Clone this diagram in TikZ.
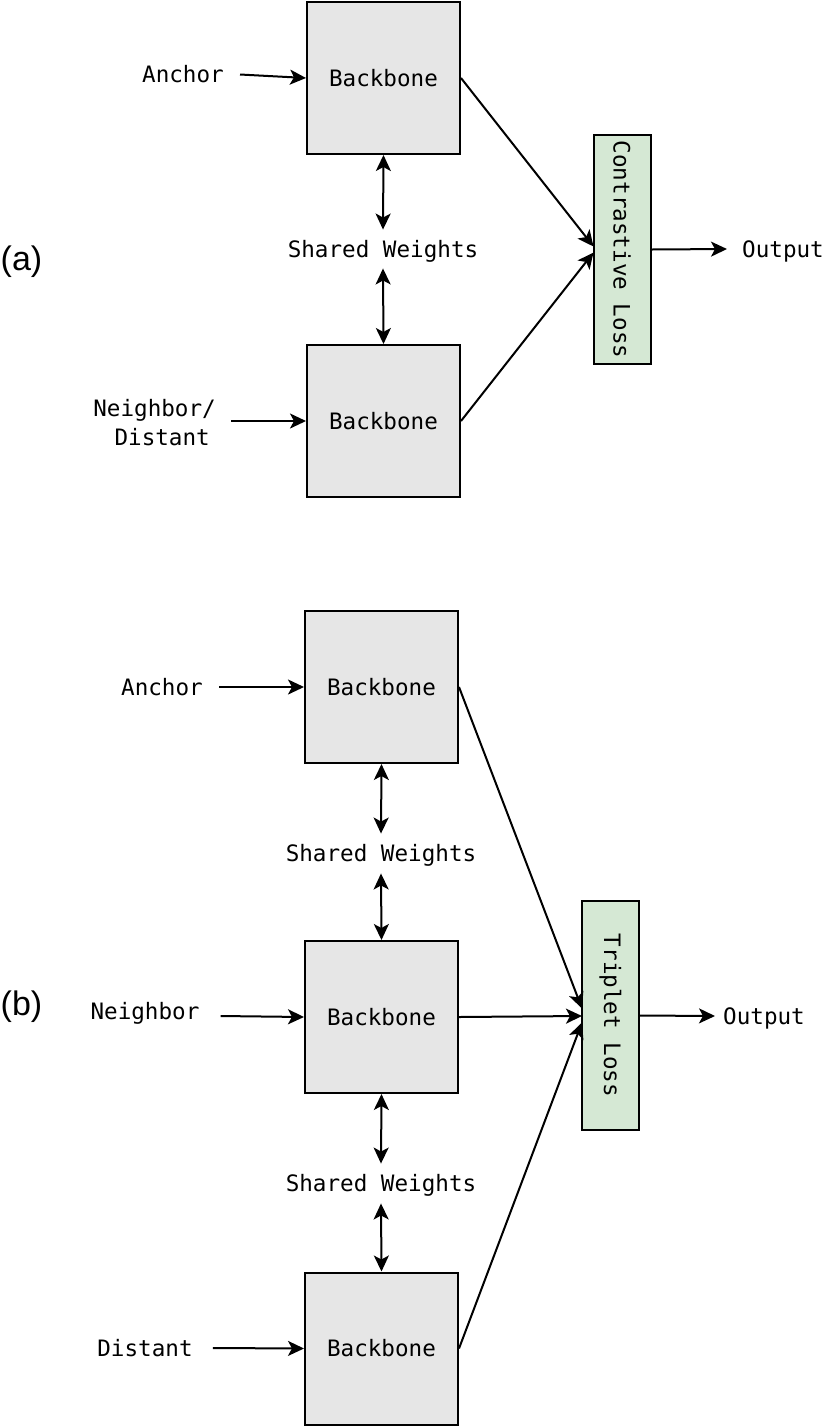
\documentclass[tikz,border=0pt]{standalone}
\usepackage{fontspec}
\usetikzlibrary{arrows.meta}
\newfontfamily\monof{DejaVu Sans Mono}
\newfontfamily\arialf{Liberation Sans}
\definecolor{bbfill}{HTML}{E6E6E6}
\definecolor{lossfill}{HTML}{D5E8D4}
\begin{document}
\begin{tikzpicture}[x=1pt,y=-1pt,
  bbox/.style={draw=black,line width=2pt,fill=bbfill,minimum width=153pt,minimum height=152pt,inner sep=0pt,font=\monof\fontsize{22.6}{29}\selectfont},
  lossbox/.style={draw=black,line width=2pt,fill=lossfill,minimum width=229pt,minimum height=57pt,inner sep=0pt,rotate=-90,font=\monof\fontsize{22.6}{29}\selectfont},
  lbl/.style={inner sep=0pt,text height=16.5pt,text depth=0pt,font=\monof\fontsize{22.6}{29}\selectfont},
  panel/.style={inner sep=0pt,font=\arialf\fontsize{34}{40}\selectfont},
  tip/.tip={Stealth[length=16pt,width=15pt,inset=4pt]},
  arr/.style={line width=2pt,-tip},
  darr/.style={line width=2pt,tip-tip}
]
\useasboundingbox (0,0) rectangle (826,1428);

% ---------- panel (a)
\node[panel] (pa) at (21.5,262) {(a)};
\node[bbox] (bbA1) at (383.5,78) {Backbone};
\node[bbox] (bbA2) at (383.5,421) {Backbone};
\node[lossbox] (lossA) at (622,249.5) {Contrastive Loss};
\node[lbl] (anchA) at (183,74.5) {Anchor};
\node[lbl,align=right,anchor=east] (neighA) at (216,437.5) {Neighbor/\\Distant\hspace*{6pt}};
\node[lbl] (swA) at (383,249) {Shared Weights};
\node[lbl,anchor=west] (outA) at (742,249) {Output};

\draw[arr] ([xshift=16pt]anchA.east) -- (bbA1.west);
\draw[arr] ([xshift=15pt,yshift=16.5pt]neighA.east) -- (bbA2.west);
\draw[darr] (bbA1.south) -- ([yshift=11pt]swA.north);
\draw[darr] ([yshift=-11pt]swA.south) -- (bbA2.north);
\draw[arr] (bbA1.east) -- ([xshift=1pt,yshift=3pt]lossA.south);
\draw[arr] (bbA2.east) -- ([xshift=1pt,yshift=-3pt]lossA.south);
\draw[arr] (lossA.north) -- ([xshift=-15pt]outA.west);

% ---------- panel (b)
\node[panel] (pb) at (21.5,1007) {(b)};
\node[bbox] (bbB1) at (381.5,687) {Backbone};
\node[bbox] (bbB2) at (381.5,1017) {Backbone};
\node[bbox] (bbB3) at (381.5,1348.5) {Backbone};
\node[lossbox] (lossB) at (610.5,1015.5) {Triplet Loss};
\node[lbl] (anchB) at (162,687) {Anchor};
\node[lbl] (neighB) at (145,1011) {Neighbor};
\node[lbl] (distB) at (145,1348) {Distant};
\node[lbl] (swB1) at (381,853) {Shared Weights};
\node[lbl] (swB2) at (381,1183) {Shared Weights};
\node[lbl,anchor=west] (outB) at (723,1016) {Output};

\draw[arr] ([xshift=16pt]anchB.east) -- (bbB1.west);
\draw[arr] ([xshift=21pt,yshift=-5pt]neighB.east) -- (bbB2.west);
\draw[arr] ([xshift=20pt]distB.east) -- (bbB3.west);
\draw[darr] (bbB1.south) -- ([yshift=11pt]swB1.north);
\draw[darr] ([yshift=-12pt]swB1.south) -- (bbB2.north);
\draw[darr] (bbB2.south) -- ([yshift=11pt]swB2.north);
\draw[darr] ([yshift=-12pt]swB2.south) -- (bbB3.north);
\draw[arr] (bbB1.east) -- ([xshift=1pt,yshift=7pt]lossB.south);
\draw[arr] (bbB2.east) -- ([xshift=1pt,yshift=-0.5pt]lossB.south);
\draw[arr] (bbB3.east) -- ([xshift=1pt,yshift=-7pt]lossB.south);
\draw[arr] (lossB.north) -- ([xshift=-8pt]outB.west);
\end{tikzpicture}
\end{document}
